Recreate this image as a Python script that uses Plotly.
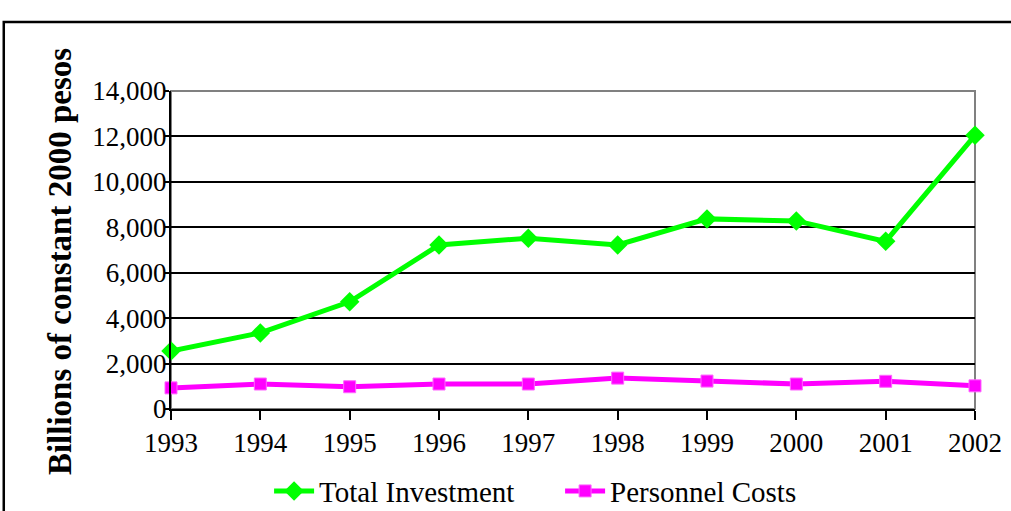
import plotly.graph_objects as go

years = [1993, 1994, 1995, 1996, 1997, 1998, 1999, 2000, 2001, 2002]
totalInvestment = [2550, 3350, 4720, 7220, 7520, 7220, 8370, 8280, 7380, 12050]
personnelCosts = [930, 1100, 980, 1100, 1100, 1360, 1230, 1100, 1220, 1020]
yTicks = [0, 2000, 4000, 6000, 8000, 10000, 12000, 14000]

serif = "Liberation Serif"

fig = go.Figure()
fig.add_trace(go.Scatter(x=years, y=totalInvestment, name="Total Investment",
                         mode="lines+markers", cliponaxis=False,
                         line=dict(color="#00ff00", width=5),
                         marker=dict(symbol="diamond", size=15, color="#00ff00")))
fig.add_trace(go.Scatter(x=years, y=personnelCosts, name="Personnel Costs",
                         mode="lines+markers", cliponaxis=False,
                         line=dict(color="#ff00ff", width=5),
                         marker=dict(symbol="square", size=12, color="#ff00ff",
                                     line=dict(color="#ff66ff", width=1))))

# gray frame of plot area (top and right edges)
fig.add_shape(type="rect", xref="paper", yref="paper", x0=0, x1=1, y0=0, y1=1,
              line=dict(color="#808080", width=2), layer="below")
# outer chart border
fig.add_shape(type="rect", xref="paper", yref="paper", x0=-0.208, x1=1.5, y0=-1, y1=1.217,
              line=dict(color="black", width=2.5), layer="below")

fig.add_annotation(text="<b>Billions of constant 2000 pesos</b>", textangle=-90,
                   xref="paper", yref="paper", x=-0.163, y=0.465, showarrow=False,
                   font=dict(family=serif, size=33, color="black"))

fig.update_xaxes(range=[1993, 2002], tickvals=years, showgrid=False, zeroline=False,
                 showline=True, linecolor="black", linewidth=2,
                 ticks="outside", ticklen=9, tickcolor="black", tickwidth=1.5,
                 tickfont=dict(family=serif, size=27, color="black"))
fig.update_yaxes(range=[0, 14000], tickvals=yTicks, tickformat=",d", zeroline=False,
                 showgrid=True, gridcolor="black", gridwidth=1.5,
                 showline=True, linecolor="black", linewidth=2,
                 ticks="outside", ticklen=5, tickcolor="black", tickwidth=1.5,
                 ticklabelstandoff=-8,
                 tickfont=dict(family=serif, size=27, color="black"))

fig.update_layout(width=1011, height=511,
                  margin=dict(l=171, r=36, t=91, b=102, autoexpand=False),
                  paper_bgcolor="white", plot_bgcolor="white",
                  font=dict(family=serif, color="black"),
                  legend=dict(orientation="h", x=0.122, xanchor="left", y=-0.258,
                              yanchor="middle", font=dict(family=serif, size=29),
                              entrywidth=236, entrywidthmode="pixels", itemwidth=40),
                  showlegend=True)

fig.write_html("out.html", config={"displayModeBar": False},
               post_script="document.body.style.margin='0px';")
